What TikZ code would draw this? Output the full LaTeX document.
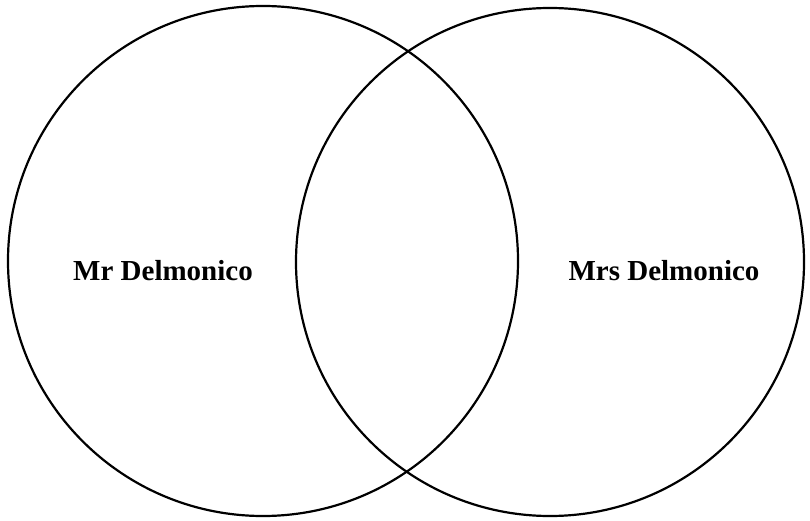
\documentclass[tikz,border=0pt]{standalone}
\usepackage{fontspec}
\setmainfont{Liberation Serif}
\begin{document}
\begin{tikzpicture}[x=1pt,y=-1pt,
  ring/.style={draw=black,line width=2.2pt,circle,inner sep=0pt},
  lbl/.style={font=\bfseries\fontsize{29}{33}\selectfont,inner sep=0pt}]
\useasboundingbox (0,0) rectangle (810,521);
\node[ring,minimum size=510pt] (left) at (263,261) {};
\node[ring,minimum size=508pt] (right) at (550,262) {};
\node[lbl] (mr) at (163,271) {Mr Delmonico};
\node[lbl] (mrs) at (664,271) {Mrs Delmonico};
\end{tikzpicture}
\end{document}
